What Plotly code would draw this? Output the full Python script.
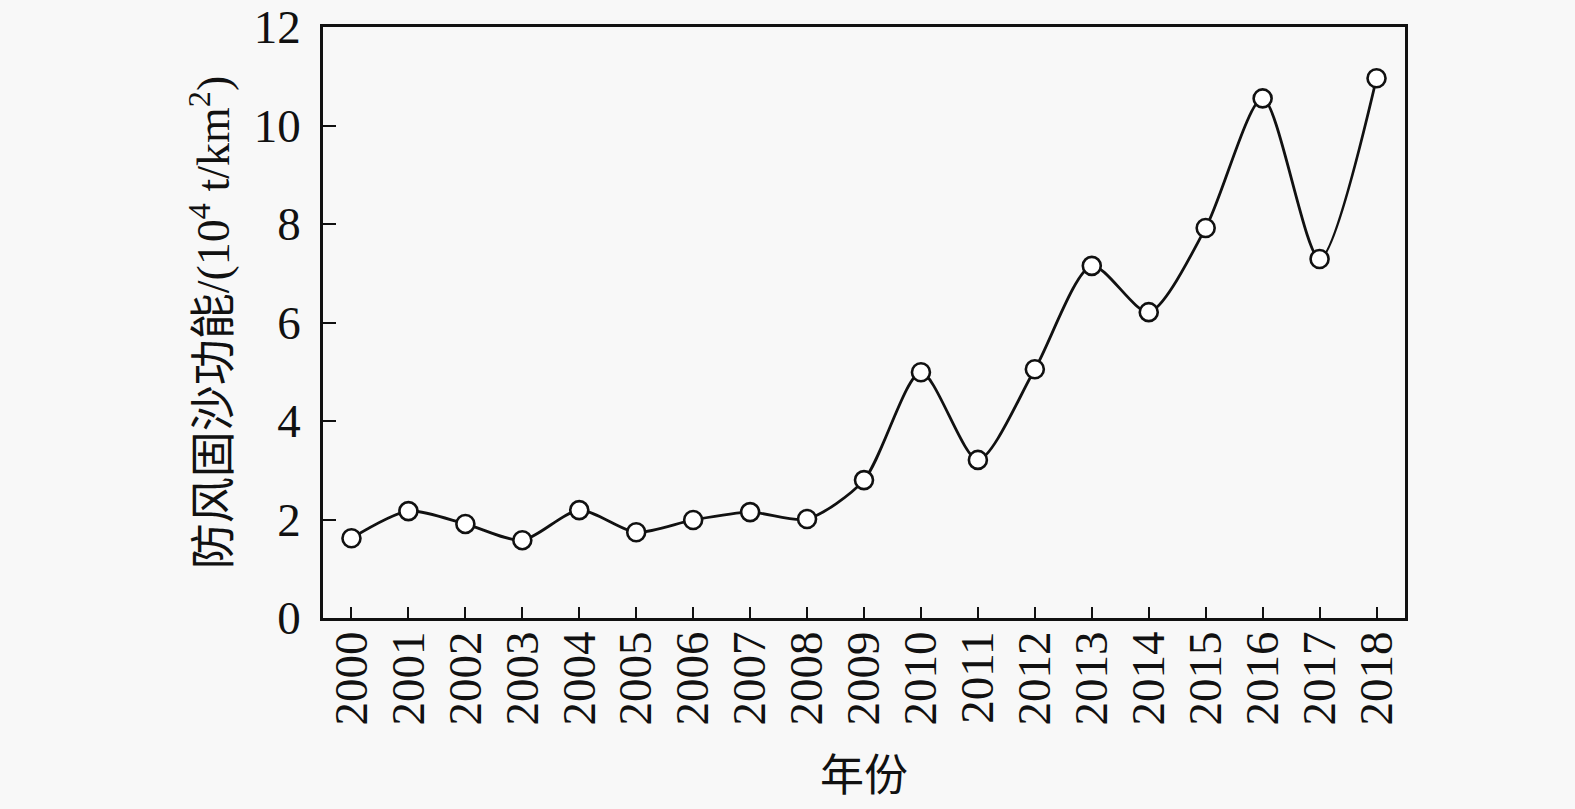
import plotly.graph_objects as go

years = [str(y) for y in range(2000, 2019)]
values = [1.62, 2.17, 1.91, 1.58, 2.19, 1.74, 1.99, 2.15, 2.01, 2.80,
          4.99, 3.21, 5.05, 7.15, 6.21, 7.92, 10.55, 7.29, 10.96]
y_ticks = [0, 2, 4, 6, 8, 10, 12]

bg = "#f8f8f8"
font_family = "Liberation Serif, Times New Roman, Noto Sans CJK SC, serif"

fig = go.Figure()
fig.add_trace(go.Scatter(
    x=[int(y) for y in years], y=values,
    mode="lines+markers",
    line=dict(color="#111111", width=2.8, shape="spline", smoothing=0.75),
    marker=dict(size=18, color="white", line=dict(color="#111111", width=2.6)),
    showlegend=False,
))

fig.update_layout(
    width=1575, height=809,
    paper_bgcolor=bg, plot_bgcolor=bg,
    margin=dict(l=323, r=170, t=27, b=191, autoexpand=False),
    font=dict(family=font_family, color="#111111", size=46),
)
fig.update_xaxes(
    range=[1999.5, 2018.5],
    tickmode="array", tickvals=[int(y) for y in years], ticktext=years,
    tickangle=-90,
    ticks="inside", ticklen=11, tickwidth=2.2, tickcolor="#111111",
    showline=True, linewidth=2.6, linecolor="#111111", mirror=True,
    showgrid=False, zeroline=False,
    tickfont=dict(size=47, family=font_family),
    ticklabelstandoff=-8,
    title=dict(text="年份", font=dict(size=44, family=font_family), standoff=36),
)
fig.update_yaxes(
    range=[0, 12],
    tickmode="array", tickvals=y_ticks, ticktext=[str(v) for v in y_ticks],
    ticks="inside", ticklen=13, tickwidth=2.2, tickcolor="#111111",
    showline=True, linewidth=2.6, linecolor="#111111", mirror=True,
    showgrid=False, zeroline=False,
    tickfont=dict(size=47, family=font_family),
    ticklabelstandoff=10,
    title=dict(text="防风固沙功能/(10<sup>4</sup> t/km<sup>2</sup>)",
               font=dict(size=46, family=font_family), standoff=10),
)

fig.write_html(
    "out.html",
    config={"displayModeBar": False},
    post_script="document.body.style.margin='0';document.body.style.backgroundColor='#f8f8f8';",
)
